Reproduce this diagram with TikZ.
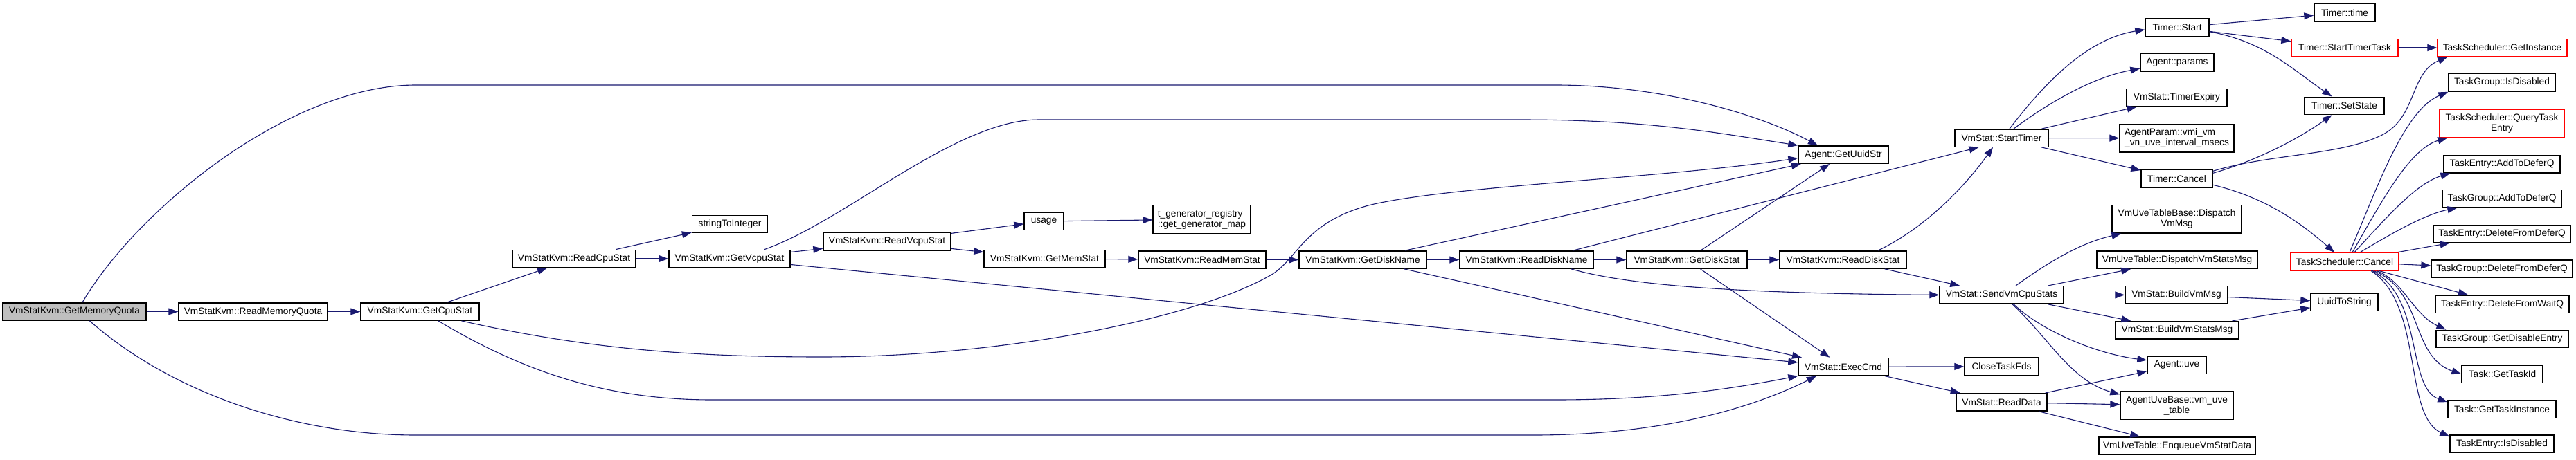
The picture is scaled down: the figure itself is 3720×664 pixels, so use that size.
\documentclass[tikz,border=0pt]{standalone}
\usepackage{fontspec}
\setmainfont{Liberation Sans}
\usetikzlibrary{arrows.meta}
\definecolor{edge}    {HTML}{191970}
\definecolor{rootfill}{HTML}{BFBFBF}
\definecolor{trunc}   {HTML}{FF0000}
\definecolor{ink}     {HTML}{000000}
\tikzset{
  fn/.style={draw=ink, line width=1.4pt, fill=white, inner sep=0pt,
    minimum height=25.4pt, font={\fontsize{13.7}{15}\selectfont}},
  rootfn/.style={fn, fill=rootfill},
  truncfn/.style={fn, draw=trunc},
  twoline/.style={minimum height=40.5pt},
  call/.style={draw=edge, line width=1.1pt, -{Triangle[length=14pt, width=10pt]}}
}

\begin{document}
\begin{tikzpicture}[x=1pt, y=-1pt]
    \useasboundingbox (0,0) rectangle (3720,664);
    \node[rootfn, minimum width=207pt] (gmq) at (107.5,450.5) {VmStatKvm::GetMemoryQuota};
    \foreach \n/\x/\y/\w/\t in
      {rmq/365.5/450.5/215/VmStatKvm::ReadMemoryQuota, gcs/606.5/450.5/171/VmStatKvm::GetCpuStat,
       rcs/829/374/178/VmStatKvm::ReadCpuStat, sti/1054/324/109/stringToInteger,
       gvs/1053.5/374/175/VmStatKvm::GetVcpuStat, rvs/1281/349.4/184/VmStatKvm::ReadVcpuStat,
       usage/1507.5/320/57/usage, gms/1508.5/374/175/VmStatKvm::GetMemStat,
       rms/1736/375.5/184/VmStatKvm::ReadMemStat, gdn/1968/375.5/184/VmStatKvm::GetDiskName,
       rdn/2204.5/375.5/193/VmStatKvm::ReadDiskName, gds/2436/375.5/174/VmStatKvm::GetDiskStat,
       rds/2661.5/375.5/183/VmStatKvm::ReadDiskStat, uuid/2662/223.6/130/Agent::GetUuidStr,
       exec/2662/530.2/130/VmStat::ExecCmd, stimer/2890.5/199.5/135/VmStat::StartTimer,
       svcs/2890.5/426.4/179/VmStat::SendVmCpuStats, ctf/2890.5/529.8/107/CloseTaskFds,
       rdata/2890.5/581.4/131/VmStat::ReadData, tstart/3144/39.8/92/Timer::Start,
       aparams/3144/90.2/106/Agent::params, texp/3143.5/141/145/VmStat::TimerExpiry,
       tcancel/3143.5/258.3/103/Timer::Cancel, dvms/3144/375.6/232/VmUveTable::DispatchVmStatsMsg,
       bvm/3143/426.4/148/VmStat::BuildVmMsg, bvms/3144/477.3/178/VmStat::BuildVmStatsMsg,
       auve/3143.5/527.7/85/Agent::uve, enq/3144/644.5/226/VmUveTable::EnqueueVmStatData,
       ttime/3386/18.2/88/Timer::time, tset/3385.5/152.9/115/Timer::SetState,
       uts/3385.5/436.6/97/UuidToString, tgdis/3613/119.4/154/TaskGroup::IsDisabled,
       teadd/3613/237.1/168/TaskEntry::AddToDeferQ, tgadd/3613/287.1/172/TaskGroup::AddToDeferQ,
       tedel/3613/337.9/198/TaskEntry::DeleteFromDeferQ, tgdel/3613/388.7/204/TaskGroup::DeleteFromDeferQ,
       tewait/3613.5/439.6/193/TaskEntry::DeleteFromWaitQ, tgde/3613.5/490/191/TaskGroup::GetDisableEntry,
       tid/3613.5/540.8/117/Task::GetTaskId, tinst/3613/591.6/156/Task::GetTaskInstance,
       tedis/3613/641.6/150/TaskEntry::IsDisabled}
      {\node[fn, minimum width=\w pt] (\n) at (\x,\y) {\t};}
    \foreach \n/\x/\y/\w/\t in
      {tstt/3386/69/154/Timer::StartTimerTask, tsgi/3613.5/69/187/TaskScheduler::GetInstance,
       tscancel/3386/378.2/156/TaskScheduler::Cancel}
      {\node[truncfn, minimum width=\w pt] (\n) at (\x,\y) {\t};}
    \node[truncfn, twoline, minimum width=180pt, align=center] (tsqte) at (3613,178.3) {TaskScheduler::QueryTask\\Entry};
    \node[fn, twoline, minimum width=141pt, align=left] (tgen) at (1735.5,317) {t\_generator\_registry\\::get\_generator\_map};
    \node[fn, twoline, minimum width=165pt, align=left] (apint) at (3143.5,199.7) {AgentParam::vmi\_vm\\\_vn\_uve\_interval\_msecs};
    \node[fn, twoline, minimum width=187pt, align=center] (dvm) at (3143.5,316.8) {VmUveTableBase::Dispatch\\VmMsg};
    \node[fn, twoline, minimum width=163pt, align=center] (uvet) at (3143.5,586.3) {AgentUveBase::vm\_uve\\\_table};

    \foreach \a/\b in
      {gmq/rmq, rmq/gcs, gcs/rcs, rcs/sti, rcs/gvs, gvs/rvs, rvs/usage, rvs/gms, usage/tgen,
       gms/rms, rms/gdn, gdn/rdn, rdn/gds, gds/rds, gdn/uuid, gdn/exec, gds/uuid, gds/exec,
       gvs/exec, rds/svcs, stimer/texp, stimer/apint, stimer/tcancel, tstart/ttime, tstart/tstt,
       tstt/tsgi, svcs/dvms, svcs/bvm, svcs/bvms, bvm/uts, bvms/uts, exec/ctf, exec/rdata,
       rdata/auve, rdata/uvet, rdata/enq, tscancel/tedel, tscancel/tgdel, tscancel/tewait}
      {\draw[call] (\a) -- (\b);}

    \draw[call] ([xshift=11.5pt]gmq.north) .. controls (200,300) and (420,123) .. (600,123)
      -- (2246,123) .. controls (2400,123) and (2540,165) .. ([xshift=-37pt]uuid.north);
    \draw[call] ([xshift=22pt]gmq.south) .. controls (250,570) and (430,629) .. (600,629)
      -- (2215,629) .. controls (2400,629) and (2530,590) .. ([xshift=-39pt]exec.south);
    \draw[call] ([xshift=60pt]gcs.south) .. controls (850,505) and (1000,516) .. (1187,516)
      .. controls (1450,516) and (1730,460) .. (1838,396) .. controls (1875,372) and (1885,320) .. (1980,296)
      .. controls (2100,268) and (2400,258) .. ([yshift=-5pt]uuid.west);
    \draw[call] ([xshift=26.5pt]gcs.south) .. controls (760,540) and (880,578) .. (1028,578)
      -- (2246,578) .. controls (2400,578) and (2500,562) .. (exec.south west);
    \draw[call] ([xshift=50.5pt]gvs.north) .. controls (1220,320) and (1380,173) .. (1500,173)
      -- (2195,173) .. controls (2380,173) and (2480,192) .. (uuid.north west);
    \draw[call] ([xshift=67pt]rdn.north) -- ([xshift=-33pt]stimer.south);
    \draw[call] ([xshift=64.5pt]rdn.south) .. controls (2350,412) and (2500,424) .. (svcs.west);
    \draw[call] ([xshift=50.5pt]rds.north) .. controls (2770,335) and (2830,280) .. ([xshift=-12.5pt]stimer.south);

    \draw[call] ([xshift=11.5pt]stimer.north) .. controls (2960,110) and (3020,55) .. ([yshift=-3pt]tstart.west);
    \draw[call] ([xshift=17.5pt]stimer.north) .. controls (2970,140) and (3030,110) .. ([yshift=-9pt]aparams.west);
    \draw[call] ([yshift=-6pt]tstart.east) .. controls (3270,60) and (3310,100) .. ([xshift=-18pt]tset.north);
    \draw[call] ([yshift=8pt]tcancel.east) .. controls (3260,232) and (3320,200) .. ([xshift=-18pt]tset.south);
    \draw[call] ([yshift=11pt]tcancel.east) .. controls (3280,222) and (3380,225) .. (3440,195)
      .. controls (3490,170) and (3480,105) .. ([xshift=15pt]tsgi.south west);
    \draw[call] ([yshift=-9pt]tcancel.east) .. controls (3270,285) and (3320,320) .. ([xshift=-15pt]tscancel.north);

    \draw[call] ([xshift=7pt]tscancel.north) .. controls (3430,280) and (3470,160) .. (tgdis.south west);
    \draw[call] ([xshift=11pt]tscancel.north) .. controls (3440,290) and (3480,215) .. ([xshift=12pt]tsqte.south west);
    \draw[call] ([xshift=14pt]tscancel.north) .. controls (3450,310) and (3490,265) .. ([xshift=10pt]teadd.south west);
    \draw[call] ([xshift=22pt]tscancel.north) .. controls (3450,340) and (3500,310) .. ([xshift=22pt]tgadd.south west);
    \draw[call] ([xshift=46pt]tscancel.south) .. controls (3470,405) and (3485,455) .. ([xshift=15pt]tgde.north west);
    \draw[call] ([xshift=42pt]tscancel.south) .. controls (3500,420) and (3480,515) .. (tid.west);
    \draw[call] ([xshift=40pt]tscancel.south) .. controls (3500,430) and (3475,560) .. ([yshift=-3pt]tinst.north west);
    \draw[call] ([xshift=38pt]tscancel.south) .. controls (3500,440) and (3470,600) .. ([yshift=-3pt]tedis.north west);

    \draw[call] ([xshift=20.5pt]svcs.north) .. controls (2950,385) and (3000,352) .. ([xshift=14pt]dvm.south west);
    \draw[call] ([xshift=17.5pt]svcs.south) .. controls (2950,480) and (3030,512) .. ([yshift=7pt]auve.west);
    \draw[call] ([xshift=15.5pt]svcs.south) .. controls (2960,490) and (2990,550) .. ([yshift=16pt]uvet.west);
  \end{tikzpicture}
\end{document}
